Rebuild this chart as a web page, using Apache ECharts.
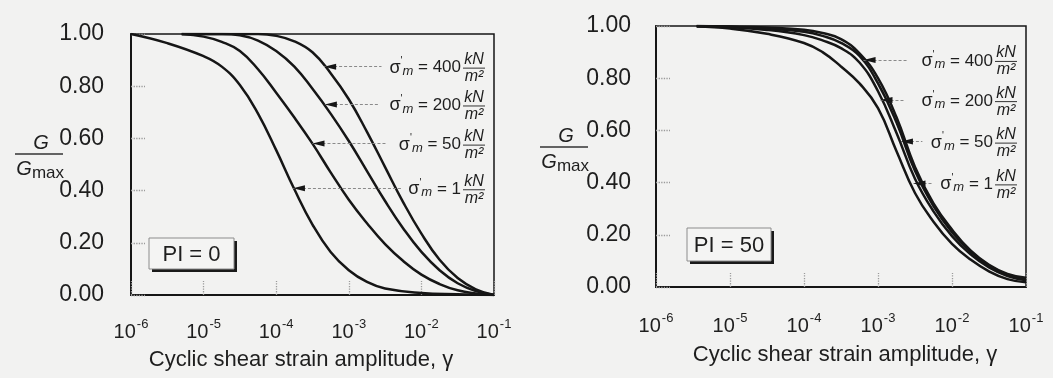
<!DOCTYPE html>
<html><head><meta charset="utf-8">
<script src="https://cdn.jsdelivr.net/npm/echarts@6/dist/echarts.min.js"></script>
<style>html,body{margin:0;padding:0;background:#f2f2f1}#c{width:1053px;height:378px}</style>
</head><body><div id="c"></div>
<script>
// ---- tick labels ----
const decadeExponents = ['-6', '-5', '-4', '-3', '-2', '-1'];
const yTickValues = [0, 0.2, 0.4, 0.6, 0.8, 1.0];

// ---- PI = 0 panel ----
const pi0Strain1 = [1e-6, 3.16e-6, 1e-5, 1.78e-5, 3.16e-5, 5.62e-5, 1e-4, 1.78e-4, 3.16e-4, 5.62e-4, 1e-3, 1.78e-3, 3.16e-3, 1e-2, 3.16e-2, 1e-1];
const pi0G1 = [1.0, 0.965, 0.915, 0.875, 0.805, 0.695, 0.555, 0.405, 0.27, 0.165, 0.095, 0.05, 0.025, 0.008, 0.003, 0.0];
const pi0Strain50 = [5.0e-6, 1e-5, 1.78e-5, 3.16e-5, 5.62e-5, 1e-4, 1.78e-4, 3.16e-4, 5.62e-4, 1e-3, 1.78e-3, 3.16e-3, 5.62e-3, 1e-2, 1.78e-2, 3.16e-2, 5.62e-2, 1e-1];
const pi0G50 = [1.0, 0.99, 0.97, 0.935, 0.865, 0.775, 0.68, 0.58, 0.47, 0.365, 0.275, 0.195, 0.13, 0.078, 0.042, 0.018, 0.006, 0.0];
const pi0Strain200 = [5.0e-6, 1.78e-5, 3.16e-5, 5.62e-5, 1e-4, 1.78e-4, 3.16e-4, 5.62e-4, 1e-3, 1.78e-3, 3.16e-3, 5.62e-3, 1e-2, 1.78e-2, 3.16e-2, 5.62e-2, 1e-1];
const pi0G200 = [1.0, 1.0, 0.995, 0.975, 0.935, 0.875, 0.79, 0.695, 0.59, 0.475, 0.36, 0.255, 0.165, 0.095, 0.045, 0.015, 0.0];
const pi0Strain400 = [5.0e-6, 5.62e-5, 1e-4, 1.78e-4, 3.16e-4, 5.62e-4, 1e-3, 1.78e-3, 3.16e-3, 5.62e-3, 1e-2, 1.78e-2, 3.16e-2, 5.62e-2, 1e-1];
const pi0G400 = [1.0, 1.0, 0.993, 0.972, 0.93, 0.85, 0.75, 0.625, 0.49, 0.355, 0.235, 0.135, 0.065, 0.022, 0.0];

// ---- PI = 50 panel ----
const pi50Strain = [3.55e-6, 1e-5, 3.16e-5, 1e-4, 1.78e-4, 3.16e-4, 5.62e-4, 1e-3, 1.78e-3, 3.16e-3, 5.62e-3, 1e-2, 1.78e-2, 3.16e-2, 5.62e-2, 1e-1];
const pi50G1 = [0.998, 0.99, 0.97, 0.935, 0.90, 0.845, 0.78, 0.685, 0.52, 0.36, 0.25, 0.165, 0.105, 0.06, 0.03, 0.018];
const pi50G50 = [1.0, 0.995, 0.985, 0.965, 0.945, 0.915, 0.86, 0.75, 0.59, 0.415, 0.29, 0.195, 0.125, 0.075, 0.042, 0.026];
const pi50G200 = [1.0, 0.997, 0.99, 0.978, 0.962, 0.935, 0.885, 0.78, 0.63, 0.445, 0.31, 0.21, 0.135, 0.082, 0.047, 0.03];
const pi50G400 = [1.0, 0.998, 0.994, 0.986, 0.973, 0.95, 0.895, 0.80, 0.65, 0.46, 0.32, 0.22, 0.14, 0.085, 0.05, 0.035];

// ---- annotation arrows: stress level, arrow tip strain, G/Gmax at arrow, dashed end strain ----
const stressLabels = ['400', '200', '50', '1'];
const pi0ArrowTip = [4.57e-4, 4.68e-4, 3.16e-4, 1.70e-4];
const pi0ArrowG = [0.875, 0.73, 0.58, 0.409];
const pi0ArrowEnd = [2.82e-3, 2.63e-3, 3.39e-3, 5.25e-3];
const pi50ArrowTip = [6.38e-4, 1.08e-3, 2.04e-3, 3.02e-3];
const pi50ArrowG = [0.87, 0.716, 0.557, 0.397];
const pi50ArrowEnd = [2.51e-3, 2.24e-3, 3.98e-3, 5.5e-3];

const FONT = "'Liberation Sans', Arial, Helvetica, sans-serif";
const INK = '#161616';

function pairs(xs, ys) { return xs.map((x, i) => [x, ys[i]]); }

function arrowMarks(i, tips, gs, ends) {
  return {
    markLine: {
      silent: true, animation: false, symbol: ['none', 'none'],
      label: { show: false },
      lineStyle: { color: '#8a8a8a', type: [3, 2], width: 1 },
      data: [[{ coord: [tips[i], gs[i]] }, { coord: [ends[i], gs[i]] }]]
    },
    markPoint: {
      silent: true, animation: false,
      symbol: 'triangle', symbolSize: [6, 12], symbolRotate: 90, symbolOffset: [6, 0],
      itemStyle: { color: INK }, label: { show: false },
      data: [{ coord: [tips[i], gs[i]] }]
    }
  };
}

function curve(name, idx, xs, ys, arrowIdx, tips, gs, ends) {
  return Object.assign({
    name: name, type: 'line', xAxisIndex: idx, yAxisIndex: idx,
    data: pairs(xs, ys), showSymbol: false, smooth: 0.45,
    lineStyle: { color: INK, width: 2.5 }, animation: false, silent: true
  }, arrowMarks(arrowIdx, tips, gs, ends));
}

function xAxisDef(idx, margin) {
  return {
    type: 'log', logBase: 10, gridIndex: idx, min: 1e-6, max: 1e-1, splitNumber: 5,
    axisLine: { lineStyle: { color: INK, width: 2 } },
    axisTick: { inside: true, length: 14, lineStyle: { color: '#9a9a9a', type: 'dotted', width: 1.3 } },
    minorTick: { show: false }, splitLine: { show: false },
    axisLabel: {
      margin: margin, color: '#1e1e1e', fontFamily: FONT,
      formatter: (v, i) => '{b|10}{s|' + decadeExponents[Math.round(Math.log10(v)) + 6] + '}',
      rich: {
        b: { fontSize: 20, fontFamily: FONT, color: '#1e1e1e' },
        s: { fontSize: 13, fontFamily: FONT, color: '#1e1e1e', padding: [0, 0, 16, 1] }
      }
    }
  };
}

function yAxisDef(idx, margin) {
  return {
    type: 'value', gridIndex: idx, min: 0, max: 1, interval: 0.2,
    axisLine: { show: true, lineStyle: { color: INK, width: 2 } },
    axisTick: { show: true, inside: true, length: 14, lineStyle: { color: '#9a9a9a', type: 'dotted', width: 1.3 } },
    splitLine: { show: false },
    axisLabel: {
      margin: margin, fontSize: 23, color: '#1e1e1e', fontFamily: FONT,
      formatter: v => (yTickValues.indexOf(Math.round(v * 10) / 10) >= 0 ? v.toFixed(2) : '')
    }
  };
}

const chart = echarts.init(document.getElementById('c'), null, { renderer: 'canvas' });
chart.setOption({
  backgroundColor: '#f2f2f1',
  animation: false,
  grid: [
    { left: 131, top: 34, width: 363, height: 261, show: true, borderColor: INK, borderWidth: 1.5, backgroundColor: 'transparent' },
    { left: 656, top: 26, width: 370, height: 261, show: true, borderColor: INK, borderWidth: 1.5, backgroundColor: 'transparent' }
  ],
  xAxis: [xAxisDef(0, 23), xAxisDef(1, 25)],
  yAxis: [yAxisDef(0, 27), yAxisDef(1, 25)],
  series: [
    curve('σ=1', 0, pi0Strain1, pi0G1, 3, pi0ArrowTip, pi0ArrowG, pi0ArrowEnd),
    curve('σ=50', 0, pi0Strain50, pi0G50, 2, pi0ArrowTip, pi0ArrowG, pi0ArrowEnd),
    curve('σ=200', 0, pi0Strain200, pi0G200, 1, pi0ArrowTip, pi0ArrowG, pi0ArrowEnd),
    curve('σ=400', 0, pi0Strain400, pi0G400, 0, pi0ArrowTip, pi0ArrowG, pi0ArrowEnd),
    curve('σ=1', 1, pi50Strain, pi50G1, 3, pi50ArrowTip, pi50ArrowG, pi50ArrowEnd),
    curve('σ=50', 1, pi50Strain, pi50G50, 2, pi50ArrowTip, pi50ArrowG, pi50ArrowEnd),
    curve('σ=200', 1, pi50Strain, pi50G200, 1, pi50ArrowTip, pi50ArrowG, pi50ArrowEnd),
    curve('σ=400', 1, pi50Strain, pi50G400, 0, pi50ArrowTip, pi50ArrowG, pi50ArrowEnd)
  ]
});

// ---- graphics (titles, fractions, PI boxes, stress labels) ----
function txt(x, y, text, size, extra) {
  return { type: 'text', x: x, y: y, silent: true,
    style: Object.assign({ text: text, fontSize: size, fontFamily: FONT, fill: '#1e1e1e', align: 'center', verticalAlign: 'middle' }, extra || {}) };
}
function ln(x1, y1, x2, y2, w, c) {
  return { type: 'line', silent: true, shape: { x1: x1, y1: y1, x2: x2, y2: y2 }, style: { stroke: c || '#1e1e1e', lineWidth: w || 1.2 } };
}
function gFraction(cx, lineY) {
  return [
    txt(cx + 2, lineY - 11, 'G', 20, { fontStyle: 'italic' }),
    ln(cx - 24, lineY, cx + 24, lineY, 1.3, '#333'),
    txt(cx - 15, lineY + 15, 'G', 20, { fontStyle: 'italic' }),
    txt(cx + 9, lineY + 19, 'max', 17)
  ];
}
function piBox(x, y, w, h, label) {
  return [
    { type: 'rect', silent: true, shape: { x: x + 3, y: y + 3, width: w, height: h }, style: { fill: '#1a1a1a' } },
    { type: 'rect', silent: true, shape: { x: x, y: y, width: w, height: h }, style: { fill: '#f4f4f3', stroke: '#8c8c8c', lineWidth: 1 } },
    txt(x + w / 2, y + h / 2 + 1, label, 22)
  ];
}
function stressLabel(xr, yc, value) {
  return [
    txt(xr - 24, yc + 1, '{s|σ}{p|\'}{m|m}{e| = ' + value + '}', 17, {
      align: 'right',
      rich: {
        s: { fontSize: 18, fontFamily: FONT, fill: '#1e1e1e' },
        p: { fontSize: 10, fontFamily: FONT, fill: '#1e1e1e', padding: [0, 0, 12, 0] },
        m: { fontSize: 13, fontFamily: FONT, fill: '#1e1e1e', fontStyle: 'italic', padding: [7, 0, 0, 0] },
        e: { fontSize: 17, fontFamily: FONT, fill: '#1e1e1e' }
      }
    }),
    txt(xr - 11, yc - 7, 'kN', 16, { fontStyle: 'italic' }),
    ln(xr - 22, yc + 1.5, xr, yc + 1.5, 1, '#333'),
    txt(xr - 11, yc + 10, 'm²', 16, { fontStyle: 'italic' })
  ];
}

const g = [];
g.push(txt(301, 360, 'Cyclic shear strain amplitude, γ', 22));
g.push(txt(845, 355, 'Cyclic shear strain amplitude, γ', 22));
g.push(...gFraction(39, 154));
g.push(...gFraction(564, 147));
g.push(...piBox(149, 238, 85, 31, 'PI = 0'));
g.push(...piBox(687, 228, 84, 33, 'PI = 50'));

const panels = [
  { grid: 0, gs: pi0ArrowG },
  { grid: 1, gs: pi50ArrowG }
];
panels.forEach(p => {
  stressLabels.forEach((s, i) => {
    const pt = chart.convertToPixel({ gridIndex: p.grid }, [1e-1, p.gs[i]]);
    g.push(...stressLabel(pt[0] - 9, pt[1], s));
  });
});
chart.setOption({ graphic: g });
</script>
</body></html>
